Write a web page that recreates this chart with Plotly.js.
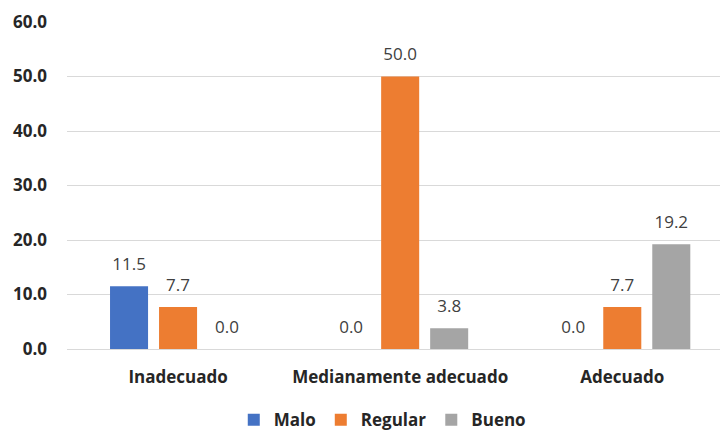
<!DOCTYPE html>
<html><head><meta charset="utf-8">
<script src="https://cdn.plot.ly/plotly-3.0.1.min.js"></script>
<style>html,body{margin:0;padding:0;background:#fff}</style>
</head><body><div id="chart" style="width:724px;height:430px"></div>
<script>
const categories = ["Inadecuado", "Medianamente adecuado", "Adecuado"];
const seriesNames = ["Malo", "Regular", "Bueno"];
const malo = [11.5, 0.0, 0.0];
const regular = [7.7, 50.0, 7.7];
const bueno = [0.0, 3.8, 19.2];
const yTicks = [0, 10, 20, 30, 40, 50, 60];
const colors = ["#4472C4", "#ED7D31", "#A5A5A5"];

const font = "'Open Sans', sans-serif";
const values = [malo, regular, bueno];
const bars = values.map((v, i) => ({
  type: "bar", name: seriesNames[i], x: categories, y: v,
  marker: {color: colors[i]}, hoverinfo: "none", legendgroup: "g" + i
}));
const labels = values.map((v, i) => ({
  type: "scatter", mode: "markers+text", x: categories, y: v,
  marker: {size: 18, opacity: 0, color: colors[i]},
  text: v.map(n => n.toFixed(1)), textposition: "top center",
  textfont: {family: font, size: 17, color: "#404040"},
  cliponaxis: false, showlegend: false, hoverinfo: "none", legendgroup: "g" + i
}));

const layout = {
  width: 724, height: 430,
  margin: {l: 67, r: 4, t: 22, b: 81},
  paper_bgcolor: "#fff", plot_bgcolor: "#fff",
  barmode: "group", bargap: 0.338, bargroupgap: 0.224,
  scattermode: "group", scattergap: 0.338,
  font: {family: font, color: "#404040"},
  xaxis: {type: "category", range: [-0.5, 2.44], showgrid: false, zeroline: false, showline: false,
    ticks: "", ticklabelstandoff: 16,
    tickfont: {family: font, size: 17, color: "#262626", weight: "bold"}},
  yaxis: {range: [0, 60], tickvals: yTicks, ticktext: yTicks.map(t => t.toFixed(1)),
    showgrid: true, gridcolor: "#d9d9d9", gridwidth: 1, zeroline: true, zerolinecolor: "#d9d9d9",
    showline: false, ticks: "", ticklabelstandoff: 19,
    tickfont: {family: font, size: 17, color: "#262626", weight: "bold"}},
  showlegend: true,
  legend: {orientation: "h", xref: "container", yref: "container",
    x: 0.528, xanchor: "center", y: 0.023, yanchor: "middle",
    font: {family: font, size: 17, color: "#262626", weight: "bold"},
    itemwidth: 30, traceorder: "normal"}
};
Plotly.newPlot("chart", bars.concat(labels), layout, {displayModeBar: false, staticPlot: true});
</script></body></html>
